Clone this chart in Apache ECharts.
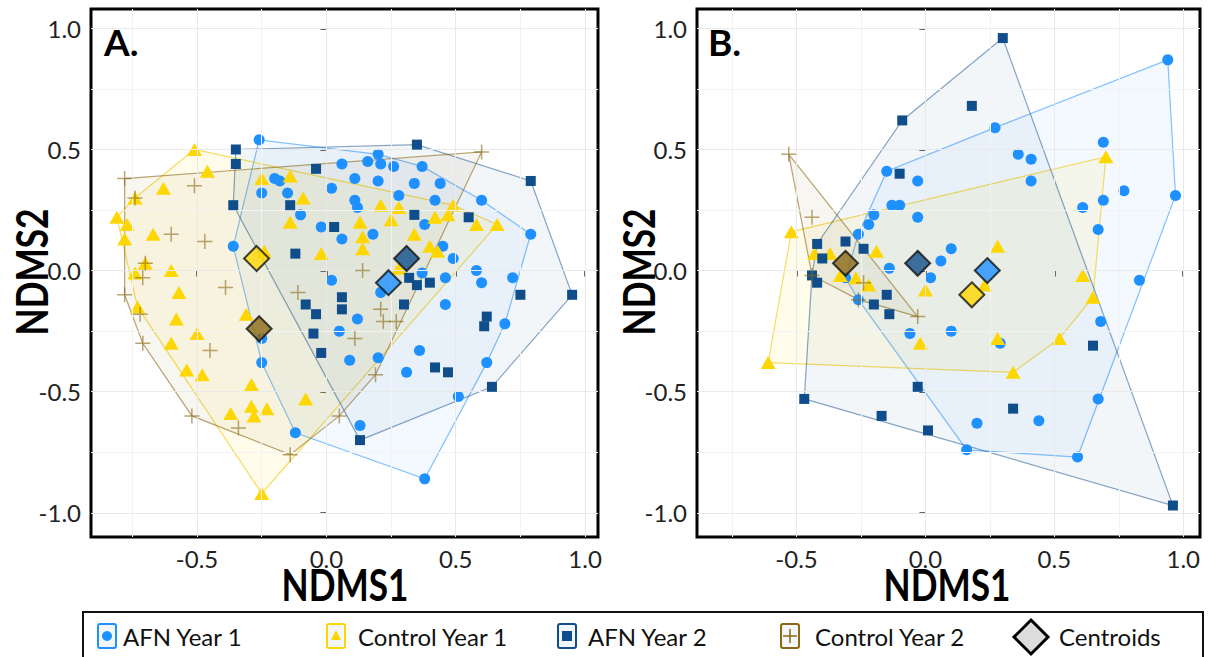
<!DOCTYPE html>
<html>
<head>
<meta charset="utf-8">
<script src="https://cdn.jsdelivr.net/npm/echarts@6/dist/echarts.min.js"></script>
<style>
  html, body { margin: 0; padding: 0; background: #fff; }
  #nmds { width: 1208px; height: 657px; }
</style>
</head>
<body>
<div id="nmds"></div>
<script>
// ---- data (NMDS scores) ----
const xMajor = [-0.5, 0, 0.5, 1.0];
const xMinor = [-0.75, -0.25, 0.25, 0.75];
const yMajor = [-1.0, -0.5, 0, 0.5, 1.0];
const yMinor = [-0.75, -0.25, 0.25, 0.75];

// panel A
const afnY1A = [
  [-0.26,0.54],[0.06,0.44],[-0.20,0.38],[-0.18,0.37],[-0.25,0.32],[-0.15,0.32],[0.02,0.34],[-0.10,0.23],
  [-0.02,0.18],[0.06,0.13],[-0.36,0.10],[0.02,-0.04],[0.20,0.48],[0.16,0.45],[0.21,0.44],[0.26,0.43],
  [0.37,0.43],[0.11,0.38],[0.20,0.37],[0.34,0.36],[0.44,0.36],[0.28,0.31],[0.42,0.29],[0.60,0.29],
  [0.11,0.29],[0.12,0.26],[0.18,0.15],[0.38,0.19],[0.79,0.15],[0.45,0.10],[0.49,0.05],[0.58,0.00],
  [0.60,-0.05],[0.72,-0.03],[0.37,-0.01],[0.46,-0.03],[0.21,-0.09],[-0.25,-0.28],[-0.25,-0.38],[-0.12,-0.67],
  [0.05,-0.25],[0.09,-0.37],[0.46,-0.14],[0.12,-0.20],[0.69,-0.22],[0.36,-0.33],[0.20,-0.36],[0.31,-0.42],
  [0.62,-0.38],[0.51,-0.52],[0.13,-0.64],[0.38,-0.86]
];
const ctrlY1A = [
  [-0.51,0.50],[-0.46,0.41],[-0.25,0.38],[-0.14,0.39],[-0.63,0.34],[-0.09,0.30],[-0.74,0.30],[-0.81,0.22],
  [-0.77,0.19],[-0.14,0.20],[-0.67,0.15],[-0.78,0.13],[-0.24,0.08],[-0.02,0.07],[-0.70,0.03],[-0.74,-0.01],
  [-0.60,0.00],[-0.57,-0.09],[0.21,0.27],[0.28,0.26],[0.49,0.27],[0.13,0.20],[0.25,0.21],[0.42,0.22],
  [0.47,0.23],[0.58,0.19],[0.66,0.19],[0.34,0.15],[0.14,0.14],[0.14,0.09],[0.40,0.10],[0.43,0.08],
  [0.28,0.01],[-0.73,-0.15],[-0.31,-0.18],[-0.58,-0.20],[-0.50,-0.26],[-0.60,-0.30],[-0.54,-0.41],[-0.48,-0.43],
  [-0.29,-0.47],[-0.29,-0.56],[-0.23,-0.57],[-0.37,-0.59],[-0.28,-0.60],[-0.08,-0.53],[-0.25,-0.92]
];
const afnY2A = [
  [-0.35,0.50],[-0.35,0.44],[-0.04,0.42],[-0.36,0.27],[-0.14,0.27],[0.03,0.18],[-0.12,0.07],[0.06,-0.11],
  [0.35,0.52],[0.79,0.37],[0.34,0.23],[0.55,0.22],[0.32,-0.03],[0.35,-0.06],[0.40,-0.05],[0.75,-0.10],
  [0.95,-0.10],[0.06,-0.16],[-0.08,-0.14],[-0.04,-0.18],[-0.05,-0.26],[-0.02,-0.34],[0.30,-0.14],[0.62,-0.19],
  [0.61,-0.23],[0.42,-0.40],[0.47,-0.42],[0.64,-0.48],[0.13,-0.70]
];
const ctrlY2A = [
  [-0.78,0.38],[-0.51,0.35],[-0.74,0.30],[-0.60,0.15],[-0.47,0.12],[-0.70,0.03],[-0.71,-0.03],[-0.39,-0.07],
  [-0.11,-0.09],[-0.78,-0.10],[0.60,0.49],[0.14,0.00],[-0.72,-0.18],[-0.71,-0.30],[-0.45,-0.33],[-0.52,-0.60],
  [-0.34,-0.65],[-0.14,-0.76],[0.05,-0.60],[0.21,-0.16],[0.22,-0.21],[0.27,-0.21],[0.11,-0.28],[0.19,-0.43]
];
// centroids A: AFN Y1, Control Y1, AFN Y2, Control Y2
const centroidsA = [[0.24,-0.05],[-0.27,0.05],[0.31,0.05],[-0.26,-0.24]];

// panel B
const afnY1B = [
  [-0.15,0.41],[-0.03,0.37],[-0.13,0.27],[-0.10,0.27],[-0.20,0.23],[-0.03,0.22],[0.94,0.87],[0.27,0.59],
  [0.36,0.48],[0.41,0.46],[0.69,0.53],[0.41,0.37],[0.61,0.26],[0.69,0.29],[0.77,0.33],[0.97,0.31],
  [-0.22,0.19],[-0.26,0.15],[-0.14,0.01],[0.06,0.04],[0.02,-0.03],[-0.31,-0.03],[-0.26,-0.12],[-0.06,-0.26],
  [0.67,0.17],[0.10,0.09],[0.83,-0.04],[0.68,-0.21],[0.10,-0.25],[0.29,-0.30],[0.67,-0.53],[0.20,-0.63],
  [0.44,-0.62],[0.16,-0.74],[0.59,-0.77]
];
const ctrlY1B = [
  [0.70,0.47],[-0.52,0.16],[-0.61,-0.38],[-0.37,0.07],[-0.43,0.07],[-0.19,0.08],[-0.33,-0.02],[-0.27,-0.03],
  [-0.22,-0.06],[0.00,-0.08],[-0.02,-0.30],[0.28,0.10],[0.23,-0.06],[0.61,-0.02],[0.65,-0.11],[0.28,-0.28],
  [0.52,-0.28],[0.34,-0.42]
];
const afnY2B = [
  [-0.09,0.62],[-0.10,0.40],[0.30,0.96],[0.18,0.68],[-0.42,0.11],[-0.31,0.12],[-0.24,0.09],[-0.40,0.05],
  [-0.44,-0.02],[-0.42,-0.05],[-0.15,-0.10],[-0.20,-0.14],[-0.14,-0.18],[-0.03,-0.48],[-0.47,-0.53],[0.65,-0.31],
  [0.34,-0.57],[0.96,-0.97],[0.01,-0.66],[-0.17,-0.60]
];
const ctrlY2B = [[-0.53,0.48],[-0.44,0.22],[-0.44,-0.02],[-0.24,-0.05],[-0.26,-0.12],[-0.03,-0.19]];
const centroidsB = [[0.24,0.00],[0.18,-0.10],[-0.03,0.03],[-0.31,0.03]];

// ---- styles ----
const plusPath = 'path://M-0.7,-7H0.7V-0.7H7V0.7H0.7V7H-0.7V0.7H-7V-0.7H-0.7Z';
const groups = [
  { name: 'AFN Year 1', symbol: 'circle', size: 11, color: '#1E90FF', solid: '#1E90FF', fill: 'rgba(30,144,255,0.05)', stroke: 'rgba(30,144,255,0.55)' },
  { name: 'Control Year 1', symbol: 'triangle', size: [15, 13], color: '#FFD700', solid: '#FFD700', fill: 'rgba(255,215,0,0.08)', stroke: 'rgba(240,200,0,0.6)' },
  { name: 'AFN Year 2', symbol: 'rect', size: 10, color: '#104E8B', solid: '#104E8B', fill: 'rgba(16,78,139,0.05)', stroke: 'rgba(16,78,139,0.5)' },
  { name: 'Control Year 2', symbol: plusPath, size: 15, color: 'rgba(139,105,20,0.6)', solid: '#8B6914', fill: 'rgba(139,105,20,0.06)', stroke: 'rgba(139,105,20,0.6)' }
];
const FONT = 'Lato, "Noto Sans", sans-serif';

// convex hull (monotone chain)
function convexHull(pts) {
  const p = pts.slice().sort((a, b) => a[0] - b[0] || a[1] - b[1]);
  const cross = (o, a, b) => (a[0] - o[0]) * (b[1] - o[1]) - (a[1] - o[1]) * (b[0] - o[0]);
  const lower = [], upper = [];
  for (const q of p) {
    while (lower.length >= 2 && cross(lower[lower.length - 2], lower[lower.length - 1], q) <= 0) lower.pop();
    lower.push(q);
  }
  for (const q of p.slice().reverse()) {
    while (upper.length >= 2 && cross(upper[upper.length - 2], upper[upper.length - 1], q) <= 0) upper.pop();
    upper.push(q);
  }
  lower.pop(); upper.pop();
  return lower.concat(upper);
}

const fmt = (v) => (Math.abs(v * 2 - Math.round(v * 2)) < 1e-6 ? v.toFixed(1) : '');

function xAxisOf(g, min, max) {
  return {
    type: 'value', gridIndex: g, min: min, max: max,
    axisLine: { show: false },
    splitLine: { show: false },
    axisTick: { show: true, length: 6, customValues: xMajor, lineStyle: { color: '#333', width: 1.5 } },
    axisLabel: { customValues: xMajor, formatter: fmt, fontSize: 24, fontFamily: FONT, color: '#222', margin: 9 }
  };
}
function yAxisOf(g) {
  return {
    type: 'value', gridIndex: g, min: -1.1, max: 1.08,
    axisLine: { show: false },
    splitLine: { show: false },
    axisTick: { show: true, length: 6, customValues: yMajor, lineStyle: { color: '#333', width: 1.5 } },
    axisLabel: { customValues: yMajor, formatter: fmt, fontSize: 24, fontFamily: FONT, color: '#222', margin: 10 }
  };
}

function gridLines(g) {
  const major = { color: '#e9e9e9', width: 1, type: 'solid' };
  const minor = { color: '#f3f3f3', width: 1, type: 'solid' };
  return {
    type: 'scatter', xAxisIndex: g, yAxisIndex: g, data: [], silent: true, z: 1,
    markLine: {
      silent: true, symbol: ['none', 'none'], label: { show: false }, animation: false,
      data: [].concat(
        xMinor.map(v => ({ xAxis: v, lineStyle: minor })),
        yMinor.map(v => ({ yAxis: v, lineStyle: minor })),
        xMajor.map(v => ({ xAxis: v, lineStyle: major })),
        yMajor.map(v => ({ yAxis: v, lineStyle: major }))
      )
    }
  };
}

function panelSeries(g, sets, cents) {
  const out = [gridLines(g)];
  // hulls first so they sit under the points
  sets.forEach((pts, i) => {
    const h = convexHull(pts);
    out.push({
      type: 'custom', xAxisIndex: g, yAxisIndex: g, z: 2, silent: true,
      data: h,
      renderItem: function (params, api) {
        if (params.dataIndex !== 0) return null;
        return {
          type: 'polygon',
          shape: { points: h.map(p => api.coord(p)) },
          style: { fill: groups[i].fill, stroke: groups[i].stroke, lineWidth: 1.2 }
        };
      }
    });
  });
  sets.forEach((pts, i) => {
    out.push({
      name: groups[i].name, type: 'scatter', xAxisIndex: g, yAxisIndex: g, z: 3 + i,
      symbol: groups[i].symbol, symbolSize: groups[i].size,
      itemStyle: { color: groups[i].color, opacity: 1 },
      data: pts
    });
  });
  out.push({
    name: 'Centroids', type: 'scatter', xAxisIndex: g, yAxisIndex: g, z: 10,
    symbol: 'diamond', symbolSize: [25, 25],
    data: cents.map((c, i) => ({
      value: c,
      itemStyle: { color: groups[i].solid, borderColor: '#111', borderWidth: 2 }
    }))
  });
  return out;
}

// ---- legend + labels as graphic elements ----
const legendY = 636;
function legendKey(cx, g, inner) {
  return [{
    type: 'rect', shape: { x: cx - 9, y: legendY - 12, width: 18, height: 24, r: 2 },
    style: { fill: '#f3f6fb', stroke: g.solid, lineWidth: 2 }
  }].concat(inner);
}
const legendItems = [].concat(
  legendKey(107, groups[0], [{ type: 'circle', shape: { cx: 107, cy: legendY, r: 5 }, style: { fill: '#1E90FF' } }]),
  legendKey(336, groups[1], [{ type: 'polygon', shape: { points: [[336, legendY - 6], [341, legendY + 4], [331, legendY + 4]] }, style: { fill: '#FFD700' } }]),
  legendKey(567, groups[2], [{ type: 'rect', shape: { x: 562, y: legendY - 5, width: 10, height: 10 }, style: { fill: '#104E8B' } }]),
  legendKey(790, groups[3], [
    { type: 'line', shape: { x1: 790, y1: legendY - 7, x2: 790, y2: legendY + 7 }, style: { stroke: '#8B6914', lineWidth: 1.5 } },
    { type: 'line', shape: { x1: 783, y1: legendY, x2: 797, y2: legendY }, style: { stroke: '#8B6914', lineWidth: 1.5 } }
  ]),
  [{ type: 'polygon', shape: { points: [[1031, 620], [1048, 637], [1031, 654], [1014, 637]] }, style: { fill: '#dcdcdc', stroke: '#000', lineWidth: 3 } }]
);
const legendTexts = [
  ['AFN Year 1', 123], ['Control Year 1', 358], ['AFN Year 2', 588], ['Control Year 2', 815], ['Centroids', 1059]
].map(t => ({
  type: 'text', x: t[1], y: legendY, style: { text: t[0], font: '24px ' + FONT, fill: '#111', verticalAlign: 'middle' }
}));

function titleText(text, x, y, rot) {
  return {
    type: 'text', x: x, y: y, rotation: rot || 0, scaleX: 0.8, z: 20,
    style: { text: text, font: 'bold 44px ' + FONT, fill: '#000', align: 'center', verticalAlign: 'middle' }
  };
}

const chart = echarts.init(document.getElementById('nmds'), null, { renderer: 'svg' });
const option = {
  animation: false,
  backgroundColor: '#fff',
  grid: [
    { left: 91, top: 9, width: 507, height: 528, show: true, borderColor: '#000', borderWidth: 3, backgroundColor: '#fff' },
    { left: 697, top: 9, width: 503, height: 528, show: true, borderColor: '#000', borderWidth: 3, backgroundColor: '#fff' }
  ],
  xAxis: [xAxisOf(0, -0.91, 1.05), xAxisOf(1, -0.886, 1.065)],
  yAxis: [yAxisOf(0), yAxisOf(1)],
  series: [].concat(
    panelSeries(0, [afnY1A, ctrlY1A, afnY2A, ctrlY2A], centroidsA),
    panelSeries(1, [afnY1B, ctrlY1B, afnY2B, ctrlY2B], centroidsB)
  ),
  graphic: [].concat(
    [
      { type: 'text', x: 104, y: 41, z: 20, style: { text: 'A.', font: 'bold 37px ' + FONT, fill: '#000', verticalAlign: 'middle' } },
      { type: 'text', x: 708, y: 41, z: 20, style: { text: 'B.', font: 'bold 37px ' + FONT, fill: '#000', verticalAlign: 'middle' } },
      titleText('NDMS1', 345, 584),
      titleText('NDMS1', 947, 584),
      titleText('NDMS2', 31, 272, Math.PI / 2),
      titleText('NDMS2', 638, 272, Math.PI / 2),
      { type: 'rect', shape: { x: 83, y: 612, width: 1120, height: 60 }, style: { fill: '#fff', stroke: '#111', lineWidth: 2 } }
    ],
    legendItems,
    legendTexts
  )
};
chart.setOption(option);
</script>
</body>
</html>
